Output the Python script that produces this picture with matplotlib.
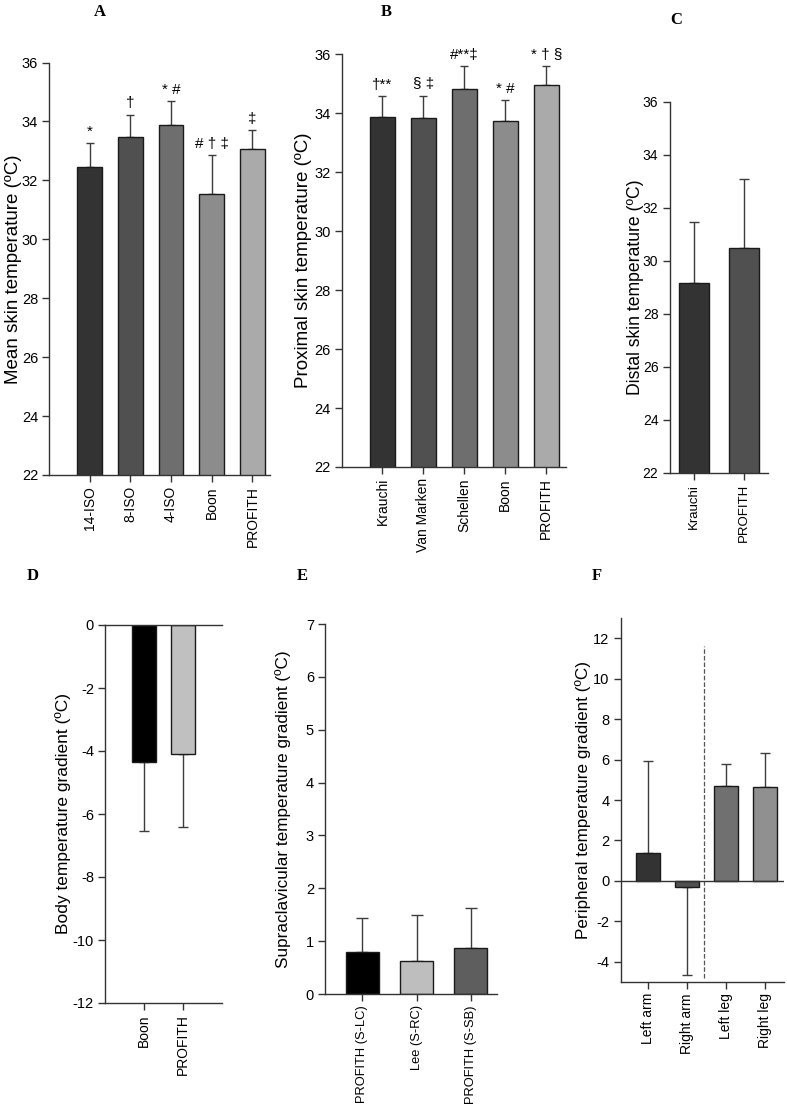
import numpy as np
import matplotlib.pyplot as plt

plt.rcParams['font.family'] = ['Liberation Sans', 'DejaVu Sans']
plt.rcParams['axes.unicode_minus'] = False

W, H = 787, 1106

# ── data ─────────────────────────────────────────────────────────────────────
a_labels = ['14-ISO', '8-ISO', '4-ISO', 'Boon', 'PROFITH']
a_means = [32.47, 33.48, 33.89, 31.54, 33.05]
a_sd = [0.80, 0.75, 0.80, 1.33, 0.67]
a_marks = ['*', '†', '* #', '# † ‡', '‡']

b_labels = ['Krauchi', 'Van Marken', 'Schellen', 'Boon', 'PROFITH']
b_means = [33.88, 33.84, 34.83, 33.74, 34.96]
b_sd = [0.69, 0.76, 0.76, 0.70, 0.65]
b_marks = ['†**', '§ ‡', '#**‡', '* #', '* † §']

c_labels = ['Krauchi', 'PROFITH']
c_means = [29.18, 30.50]
c_sd = [2.30, 2.60]

d_labels = ['Boon', 'PROFITH']
d_means = [-4.34, -4.10]
d_sd = [2.19, 2.31]

e_labels = ['PROFITH (S-LC)', 'Lee (S-RC)', 'PROFITH (S-SB)']
e_means = [0.80, 0.63, 0.87]
e_sd = [0.63, 0.86, 0.75]

f_labels = ['Left arm', 'Right arm', 'Left leg', 'Right leg']
f_means = [1.37, -0.30, 4.69, 4.65]
f_sd = [4.55, 4.35, 1.09, 1.69]

grey5 = ['#333333', '#505050', '#6e6e6e', '#8c8c8c', '#aaaaaa']

fig = plt.figure(figsize=(W / 100, H / 100), dpi=100)


def make_ax(left, right, top, bottom):
    # pixel box -> figure fraction
    ax = fig.add_axes([left / W, 1 - bottom / H, (right - left) / W, (bottom - top) / H])
    ax._px = (left, right)
    return ax


def style(ax, ylabel, ysize, ylab_x, xsize, ticksize=10.5):
    for s in ['top', 'right']:
        ax.spines[s].set_visible(False)
    for s in ax.spines.values():
        s.set_color('#333333')
        s.set_linewidth(1)
    ax.tick_params(direction='out', length=5, width=1, color='#333333',
                   labelsize=ticksize, pad=3)
    ax.tick_params(axis='x', labelsize=xsize, labelrotation=90)
    ax.set_ylabel(ylabel, fontsize=ysize, va='center')
    left, right = ax._px
    ax.yaxis.set_label_coords((ylab_x - left) / (right - left), 0.5)


def bars(ax, labels, means, sd, colours, width, capsize=3):
    x = np.arange(len(labels))
    ax.bar(x, means, width=width, color=colours, edgecolor='#1a1a1a', lw=1, zorder=2)
    up = [s if m >= 0 else 0 for m, s in zip(means, sd)]
    dn = [s if m < 0 else 0 for m, s in zip(means, sd)]
    ax.errorbar(x, means, yerr=[dn, up], fmt='none', ecolor='#3c3c3c',
                elinewidth=1, capsize=capsize, capthick=1, zorder=1)
    ax.set_xticks(x)
    ax.set_xticklabels(labels)
    return x


def letter(x, y, s):
    fig.text(x / W, 1 - y / H, s, family='Liberation Serif', fontweight='bold',
             fontsize=12, ha='center', va='center')


# ── A ────────────────────────────────────────────────────────────────────────
ax = make_ax(49.3, 270, 62.5, 475)
x = bars(ax, a_labels, a_means, a_sd, grey5, 0.61)
ax.set_xlim(-0.99, 4.43)
ax.set_ylim(22, 36)
ax.set_yticks(range(22, 37, 2))
style(ax, 'Mean skin temperature (ºC)', 13.5, 13, 10)
for xi, m, s, t in zip(x, a_means, a_sd, a_marks):
    ax.annotate(t, (xi, m + s), xytext=(0, 3), textcoords='offset points',
                ha='center', va='bottom', fontsize=11)
letter(100, 12, 'A')

# ── B ────────────────────────────────────────────────────────────────────────
ax = make_ax(341.7, 566, 54.3, 467)
x = bars(ax, b_labels, b_means, b_sd, grey5, 0.61)
ax.set_xlim(-0.995, 4.48)
ax.set_ylim(22, 36)
ax.set_yticks(range(22, 37, 2))
style(ax, 'Proximal skin temperature (ºC)', 13.5, 303, 10)
for xi, m, s, t in zip(x, b_means, b_sd, b_marks):
    ax.annotate(t, (xi, m + s), xytext=(0, 3), textcoords='offset points',
                ha='center', va='bottom', fontsize=11)
letter(386, 12, 'B')

# ── C ────────────────────────────────────────────────────────────────────────
ax = make_ax(669.5, 768, 101.7, 473)
bars(ax, c_labels, c_means, c_sd, grey5[:2], 0.6, capsize=3.5)
ax.set_xlim(-0.49, 1.48)
ax.set_ylim(22, 36)
ax.set_yticks(range(22, 37, 2))
style(ax, 'Distal skin temperature (ºC)', 12.7, 635, 9.5, 10)
letter(676, 20, 'C')

# ── D ────────────────────────────────────────────────────────────────────────
ax = make_ax(105, 222, 625, 1003)
bars(ax, d_labels, d_means, d_sd, ['#000000', '#c0c0c0'], 0.615, capsize=3.5)
ax.set_xlim(-1, 2)
ax.set_ylim(-12, 0)
ax.set_yticks(range(-12, 1, 2))
style(ax, 'Body temperature gradient (ºC)', 12.5, 63, 10)
ax.spines['top'].set_visible(True)
ax.spines['top'].set_color('#333333')
letter(33, 576, 'D')

# ── E ────────────────────────────────────────────────────────────────────────
ax = make_ax(325, 497, 624, 994)
bars(ax, e_labels, e_means, e_sd, ['#000000', '#bebebe', '#5e5e5e'], 0.61, capsize=4)
ax.set_xlim(-0.694, 2.49)
ax.set_ylim(0, 7)
ax.set_yticks(range(0, 8))
style(ax, 'Supraclavicular temperature gradient (ºC)', 12.3, 283, 9.3)
letter(302, 576, 'E')

# ── F ────────────────────────────────────────────────────────────────────────
ax = make_ax(620.7, 784, 618, 982)
bars(ax, f_labels, f_means, f_sd, ['#333333', '#505050', '#707070', '#909090'],
     0.617, capsize=3.5)
ax.axhline(0, color='#333333', lw=1, zorder=3)
ax.plot([1.44, 1.44], [-4.8, 11.6], ls='--', lw=0.9, color='#555555', zorder=1)
ax.set_xlim(-0.7, 3.5)
ax.set_ylim(-5, 13)
ax.set_yticks(range(-4, 13, 2))
style(ax, 'Peripheral temperature gradient (ºC)', 12.3, 583, 10)
letter(597, 576, 'F')

fig.savefig('out.png', dpi=100)
